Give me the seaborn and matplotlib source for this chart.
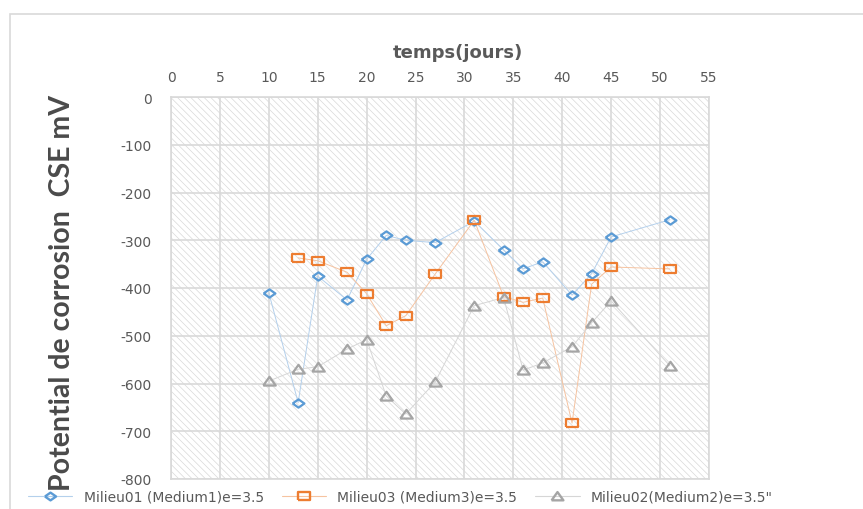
import matplotlib
matplotlib.use("Agg")
import matplotlib.pyplot as plt
from matplotlib.patches import Rectangle
from matplotlib.lines import Line2D
import seaborn as sns
import pandas as pd

# Measurement days and corrosion potentials (mV vs CSE)
jours = [10, 13, 15, 18, 20, 22, 24, 27, 31, 34, 36, 38, 41, 43, 45, 51]
milieu01 = [-410, -640, -375, -425, -340, -290, -300, -305, -260, -320, -360, -345, -415, -370, -293, -257]
jours_m3 = [13, 15, 18, 20, 22, 24, 27, 31, 34, 36, 38, 41, 43, 45, 51]
milieu03 = [-337, -343, -367, -412, -479, -458, -371, -258, -418, -430, -421, -683, -392, -356, -360]
milieu02 = [-595, -570, -565, -528, -508, -626, -664, -597, -437, -420, -572, -557, -523, -473, -427, -563]

labels = ["Milieu01 (Medium1)e=3.5", "Milieu03 (Medium3)e=3.5", "Milieu02(Medium2)e=3.5\""]
x_ticks = list(range(0, 56, 5))
y_ticks = list(range(-800, 1, 100))

sns.set_style("white")
plt.rcParams["font.family"] = ["DejaVu Sans"]
plt.rcParams["axes.unicode_minus"] = False
plt.rcParams["hatch.linewidth"] = 0.5

# wide marker outlines
diamond = [(-1, 0), (0, 0.7), (1, 0), (0, -0.7), (-1, 0)]
square = [(-1, -0.7), (1, -0.7), (1, 0.7), (-1, 0.7), (-1, -0.7)]
triangle = [(-1, -0.65), (1, -0.65), (0, 0.75), (-1, -0.65)]

# (x, y, marker colour, connecting-line colour, marker, size)
series = [
    (jours, milieu01, "#5B9BD5", "#b4d0ec", diamond, 8.5),
    (jours_m3, milieu03, "#ED7D31", "#f6c3a0", square, 9),
    (jours, milieu02, "#A5A5A5", "#d6d6d6", triangle, 9),
]

fig = plt.figure(figsize=(8.63, 5.10), dpi=100)
ax = fig.add_axes([171 / 863, 1 - 480 / 510, 538 / 863, 382 / 510])

# outer chart frame
fig.patches.append(Rectangle((10 / 863, -0.05), 1.1, 0.05 + 1 - 15 / 510,
                             transform=fig.transFigure, facecolor="none",
                             edgecolor="#d9d9d9", linewidth=1.2, zorder=0))

# hatched plot area
ax.add_patch(Rectangle((0, 0), 1, 1, transform=ax.transAxes, facecolor="white",
                       edgecolor="#d8d8d8", hatch="\\" * 5, linewidth=0, zorder=0))

handles = []
for xs, ys, col, lcol, mk, ms in series:
    df = pd.DataFrame({"x": xs, "y": ys})
    sns.lineplot(data=df, x="x", y="y", ax=ax, color=lcol, linewidth=0.7,
                 sort=False, zorder=2)
    sns.lineplot(data=df, x="x", y="y", ax=ax, color=col, linestyle="",
                 marker=mk, markersize=ms, markerfacecolor="none",
                 markeredgecolor=col, markeredgewidth=1.6, sort=False, zorder=3)
    handles.append(Line2D([], [], color=lcol, linewidth=0.8,
                          marker=mk, markersize=ms - 0.5, markerfacecolor="none",
                          markeredgecolor=col, markeredgewidth=1.7))

ax.set_xlim(0, 55)
ax.set_ylim(-800, 0)
ax.set_xticks(x_ticks)
ax.set_yticks(y_ticks)
ax.xaxis.tick_top()
ax.xaxis.set_label_position("top")
ax.grid(True, color="#d9d9d9", linewidth=1.2)
ax.set_axisbelow(True)
for s in ax.spines.values():
    s.set_color("#d9d9d9")
    s.set_linewidth(1.2)
ax.tick_params(axis="both", length=0, colors="#595959", labelsize=10)
ax.tick_params(axis="x", pad=9)
ax.tick_params(axis="y", pad=14)

ax.set_xlabel("temps(jours)", fontsize=13, fontweight="bold", color="#595959")
ax.xaxis.set_label_coords(0.533, 1.105)
ax.set_ylabel("Potential de corrosion  CSE mV", fontsize=20.5, fontweight="bold",
              color="#4a4a4a", family=["Lato", "DejaVu Sans"])
ax.yaxis.set_label_coords(-0.178, 0.49)

leg = fig.legend(handles, labels, loc="center left",
                 bbox_to_anchor=(28 / 863, 1 - 498 / 510), ncol=3, frameon=False,
                 fontsize=10, handlelength=3.2, handletextpad=0.8,
                 columnspacing=1.3, borderpad=0, borderaxespad=0)
for t in leg.get_texts():
    t.set_color("#595959")

fig.savefig("out.png", dpi=100)
